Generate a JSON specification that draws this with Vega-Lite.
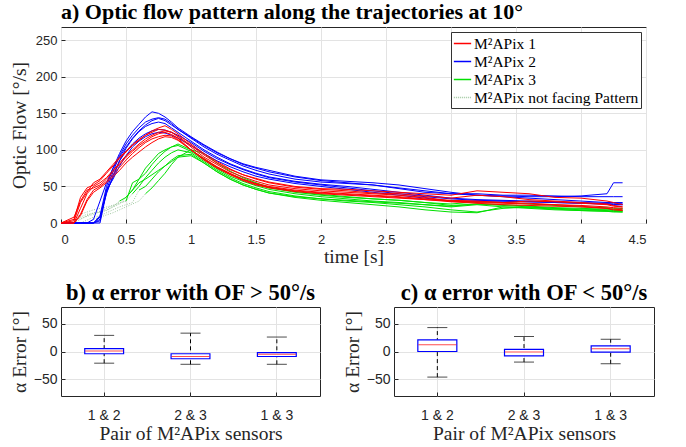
{
  "$schema": "https://vega.github.io/schema/vega-lite/v6.json",
  "padding": {"left": 8, "top": 0, "right": 5, "bottom": 2},
  "background": "white",
  "spacing": 15,
  "config": {
    "view": {"stroke": "#262626", "strokeWidth": 1},
    "axis": {
      "domain": false,
      "grid": true,
      "gridColor": "#e3e3e3",
      "gridWidth": 1,
      "tickColor": "#262626",
      "tickSize": -4,
      "labelPadding": 8,
      "labelFont": "Liberation Sans",
      "labelFontSize": 13,
      "labelColor": "#262626",
      "titleFont": "Liberation Serif",
      "titleFontSize": 19.5,
      "titleFontWeight": "normal",
      "titleColor": "#262626"
    },
    "title": {"font": "Liberation Serif", "fontSize": 22, "fontWeight": "bold", "color": "black", "offset": 3},
    "legend": {
      "labelFont": "Liberation Serif",
      "labelFontSize": 15.5,
      "labelColor": "black",
      "labelLimit": 300,
      "symbolType": "stroke",
      "symbolStrokeWidth": 1.3,
      "symbolSize": 300,
      "strokeColor": "#333333",
      "fillColor": "white",
      "padding": 2,
      "rowPadding": -3,
      "cornerRadius": 0,
      "labelOffset": 2
    }
  },
  "vconcat": [
    {
      "width": 585,
      "height": 196,
      "title": {"text": "a) Optic flow pattern along the trajectories at 10°", "anchor": "start", "frame": "group"},
      "data": {"values": [
        {"t":0,"r1":0,"r2":0,"r3":0,"r4":0,"r5":0,"r6":0,"b1":0,"b2":0,"b3":0,"b4":0,"b5":0,"b6":0},
        {"t":0.1,"r1":5,"r2":0,"r3":8,"r4":0,"r5":3,"r6":0,"b1":0,"b2":0,"b3":0,"b4":0,"b5":0,"b6":0,"d1":5,"d2":0,"d3":2,"d5":3},
        {"t":0.15,"r1":35,"r2":20,"r3":30,"r4":12,"r5":28,"r6":10,"b1":0,"b2":0,"b3":0,"b4":0,"b5":0,"b6":0,"d1":12,"d2":5,"d3":8,"d4":0,"d5":6},
        {"t":0.2,"r1":48,"r2":40,"r3":45,"r4":32,"r5":42,"r6":30,"b1":0,"b2":0,"b3":0,"b4":0,"b5":0,"b6":0,"d1":15,"d2":10,"d3":12,"d4":4,"d5":9,"d6":0},
        {"t":0.25,"r1":52,"r2":50,"r3":48,"r4":45,"r5":55,"r6":42,"b1":0,"b2":0,"b3":0,"b4":0,"b5":5,"b6":0,"d1":18,"d2":14,"d3":13,"d4":8,"d5":12,"d6":5},
        {"t":0.3,"r1":58,"r2":55,"r3":52,"r4":50,"r5":60,"r6":48,"b1":10,"b2":5,"b3":0,"b4":8,"b5":30,"b6":3,"d1":20,"d2":15,"d3":16,"d4":10,"d5":15,"d6":8},
        {"t":0.35,"r1":68,"r2":62,"r3":60,"r4":57,"r5":70,"r6":55,"b1":50,"b2":45,"b3":42,"b4":40,"b5":55,"b6":45,"d1":22,"d2":17,"d3":20,"d4":14,"d5":18,"d6":11},
        {"t":0.4,"r1":78,"r2":72,"r3":70,"r4":66,"r5":80,"r6":63,"b1":75,"b2":70,"b3":62,"b4":65,"b5":75,"b6":60,"d1":24,"d2":22,"d3":24,"d4":18,"d5":22,"d6":14},
        {"t":0.45,"r1":88,"r2":82,"r3":80,"r4":76,"r5":90,"r6":72,"b1":95,"b2":92,"b3":85,"b4":85,"b5":90,"b6":78,"g2":30,"d1":28,"d2":30,"d3":27,"d4":22,"d5":26,"d6":18},
        {"t":0.5,"r1":97,"r2":92,"r3":90,"r4":86,"r5":98,"r6":82,"b1":112,"b2":108,"b3":102,"b4":98,"b5":104,"b6":92,"g1":30,"g2":35,"g5":35,"d1":30,"d3":30,"d4":25,"d5":35,"d6":22},
        {"t":0.55,"r1":106,"r2":100,"r3":98,"r4":95,"r5":107,"r6":90,"b1":125,"b2":120,"b3":115,"b4":108,"b5":116,"b6":104,"g1":55,"g2":45,"g3":40,"g5":45,"d3":40,"d4":28,"d6":26},
        {"t":0.6,"r1":113,"r2":108,"r3":106,"r4":103,"r5":114,"r6":97,"b1":135,"b2":130,"b3":125,"b4":116,"b5":126,"b6":112,"g1":60,"g2":60,"g3":50,"g4":45,"g5":55,"d4":45,"d6":30},
        {"t":0.65,"r1":120,"r2":115,"r3":112,"r4":110,"r5":120,"r6":104,"b1":145,"b2":138,"b3":132,"b4":122,"b5":134,"b6":118,"g1":68,"g2":75,"g3":62,"g4":50,"g5":60,"g6":40,"d6":40},
        {"t":0.7,"r1":126,"r2":120,"r3":118,"r4":115,"r5":124,"r6":110,"b1":152,"b2":142,"b3":136,"b4":126,"b5":140,"b6":122,"g1":80,"g2":85,"g3":72,"g4":60,"g5":66,"g6":48},
        {"t":0.75,"r1":130,"r2":124,"r3":122,"r4":118,"r5":128,"r6":115,"b1":150,"b2":144,"b3":138,"b4":128,"b5":143,"b6":124,"g1":90,"g2":95,"g3":82,"g4":70,"g5":72,"g6":58},
        {"t":0.8,"r1":133,"r2":126,"r3":124,"r4":120,"r5":127,"r6":118,"b1":145,"b2":142,"b3":136,"b4":127,"b5":140,"b6":123,"g1":98,"g2":100,"g3":90,"g4":78,"g5":78,"g6":68},
        {"t":0.85,"r1":128,"r2":124,"r3":121,"r4":119,"r5":124,"r6":117,"b1":138,"b2":136,"b3":130,"b4":124,"b5":134,"b6":120,"g1":104,"g2":104,"g3":96,"g4":86,"g5":84,"g6":80},
        {"t":0.9,"r1":122,"r2":118,"r3":116,"r4":114,"r5":119,"r6":113,"b1":130,"b2":128,"b3":124,"b4":120,"b5":128,"b6":116,"g1":108,"g2":106,"g3":100,"g4":92,"g5":90,"g6":90},
        {"t":1.0,"r1":108,"r2":104,"r3":100,"r4":100,"r5":106,"r6":100,"b1":118,"b2":116,"b3":112,"b4":110,"b5":117,"b6":106,"g1":100,"g2":98,"g3":96,"g4":94,"g5":92,"g6":100},
        {"t":1.1,"r1":95,"r2":90,"r3":88,"r4":87,"r5":93,"r6":86,"b1":107,"b2":104,"b3":100,"b4":98,"b5":106,"b6":95,"g1":88,"g2":86,"g3":84,"g4":82,"g5":82,"g6":95},
        {"t":1.2,"r1":84,"r2":80,"r3":77,"r4":76,"r5":82,"r6":75,"b1":97,"b2":94,"b3":90,"b4":88,"b5":96,"b6":85,"g1":76,"g2":74,"g3":72,"g4":70,"g5":70,"g6":82},
        {"t":1.3,"r1":74,"r2":70,"r3":68,"r4":67,"r5":73,"r6":66,"b1":88,"b2":86,"b3":81,"b4":80,"b5":88,"b6":77,"g1":67,"g2":64,"g3":62,"g4":60,"g5":60,"g6":71},
        {"t":1.4,"r1":66,"r2":63,"r3":60,"r4":59,"r5":66,"r6":58,"b1":80,"b2":78,"b3":74,"b4":73,"b5":81,"b6":70,"g1":60,"g2":57,"g3":54,"g4":52,"g5":52,"g6":62},
        {"t":1.5,"r1":60,"r2":57,"r3":54,"r4":53,"r5":61,"r6":52,"b1":75,"b2":72,"b3":68,"b4":67,"b5":76,"b6":64,"g1":54,"g2":51,"g3":48,"g4":46,"g5":46,"g6":55},
        {"t":1.6,"r1":55,"r2":52,"r3":50,"r4":49,"r5":56,"r6":48,"b1":70,"b2":67,"b3":63,"b4":62,"b5":72,"b6":60,"g1":48,"g2":46,"g3":43,"g4":41,"g5":41,"g6":49},
        {"t":1.8,"r1":49,"r2":47,"r3":45,"r4":44,"r5":50,"r6":43,"b1":63,"b2":60,"b3":57,"b4":56,"b5":64,"b6":54,"g1":42,"g2":40,"g3":37,"g4":35,"g5":36,"g6":43},
        {"t":2.0,"r1":46,"r2":44,"r3":42,"r4":41,"r5":47,"r6":40,"b1":58,"b2":56,"b3":53,"b4":52,"b5":59,"b6":50,"g1":38,"g2":36,"g3":33,"g4":31,"g5":33,"g6":39},
        {"t":2.2,"r1":44,"r2":42,"r3":40,"r4":39,"r5":46,"r6":38,"b1":55,"b2":54,"b3":50,"b4":48,"b5":57,"b6":46,"g1":35,"g2":33,"g3":30,"g4":28,"g5":31,"g6":36},
        {"t":2.4,"r1":41,"r2":40,"r3":38,"r4":37,"r5":44,"r6":36,"b1":52,"b2":52,"b3":46,"b4":44,"b5":55,"b6":42,"g1":33,"g2":30,"g3":28,"g4":25,"g5":29,"g6":33},
        {"t":2.6,"r1":40,"r2":38,"r3":36,"r4":35,"r5":42,"r6":34,"b1":48,"b2":47,"b3":42,"b4":40,"b5":52,"b6":38,"g1":31,"g2":28,"g3":25,"g4":22,"g5":27,"g6":31},
        {"t":2.8,"r1":37,"r2":35,"r3":33,"r4":32,"r5":40,"r6":32,"b1":44,"b2":42,"b3":38,"b4":36,"b5":47,"b6":34,"g1":28,"g2":25,"g3":22,"g4":18,"g5":25,"g6":28},
        {"t":3.0,"r1":34,"r2":30,"r3":31,"r4":30,"r5":38,"r6":29,"b1":40,"b2":40,"b3":34,"b4":33,"b5":42,"b6":30,"g1":24,"g2":22,"g3":18,"g4":15,"g5":23,"g6":26},
        {"t":3.2,"r1":38,"r2":28,"r3":30,"r4":29,"r5":44,"r6":27,"b1":38,"b2":40,"b3":32,"b4":31,"b5":38,"b6":30,"g1":26,"g2":25,"g3":15,"g4":14,"g5":26,"g6":29},
        {"t":3.4,"r1":36,"r2":27,"r3":28,"r4":28,"r5":42,"r6":25,"b1":37,"b2":38,"b3":31,"b4":30,"b5":36,"b6":30,"g1":24,"g2":22,"g3":20,"g4":22,"g5":25,"g6":28},
        {"t":3.6,"r1":32,"r2":26,"r3":27,"r4":30,"r5":40,"r6":24,"b1":36,"b2":38,"b3":30,"b4":29,"b5":34,"b6":29,"g1":22,"g2":20,"g3":22,"g4":21,"g5":23,"g6":26},
        {"t":3.8,"r1":30,"r2":25,"r3":25,"r4":29,"r5":35,"r6":23,"b1":36,"b2":37,"b3":29,"b4":28,"b5":32,"b6":28,"g1":20,"g2":18,"g3":20,"g4":19,"g5":21,"g6":24},
        {"t":4.0,"r1":28,"r2":24,"r3":23,"r4":27,"r5":34,"r6":22,"b1":37,"b2":36,"b3":28,"b4":27,"b5":30,"b6":27,"g1":19,"g2":17,"g3":18,"g4":17,"g5":20,"g6":22},
        {"t":4.2,"r1":26,"r2":22,"r3":20,"r4":25,"r5":30,"r6":20,"b1":40,"b2":36,"b3":27,"b4":26,"b5":28,"b6":26,"g1":18,"g2":16,"g3":17,"g4":16,"g5":19,"g6":21},
        {"t":4.25,"r1":24,"r2":21,"r3":19,"r4":23,"r5":28,"r6":18,"b1":55,"b2":36,"b3":27,"b4":25,"b5":28,"b6":25,"g1":17,"g2":16,"g3":16,"g4":15,"g5":18,"g6":20},
        {"t":4.32,"r1":22,"r2":20,"r3":18,"r4":22,"r5":25,"r6":17,"b1":55,"b2":36,"b3":27,"b4":25,"b5":28,"b6":25,"g1":17,"g2":15,"g3":16,"g4":15,"g5":18,"g6":20}
      ]},
      "encoding": {
        "x": {"field": "t", "type": "quantitative", "scale": {"domain": [0, 4.5], "nice": false},
              "axis": {"values": [0, 0.5, 1, 1.5, 2, 2.5, 3, 3.5, 4, 4.5], "format": ".1~f", "title": "time [s]", "labelPadding": 14, "titlePadding": 1}},
        "y": {"field": "v", "type": "quantitative", "scale": {"domain": [0, 268], "nice": false},
              "axis": {"values": [0, 50, 100, 150, 200, 250], "title": "Optic Flow [°/s]", "titlePadding": 6}},
        "detail": {"field": "k"}
      },
      "layer": [
        {
          "transform": [{"fold": ["d1", "d2", "d3", "d4", "d5", "d6"], "as": ["k", "v"]}, {"filter": "isValid(datum.v)"}],
          "mark": {"type": "line", "strokeWidth": 1, "strokeDash": [1, 1.5]},
          "encoding": {
            "color": {
              "datum": "M²APix not facing Pattern",
              "type": "nominal",
              "scale": {
                "domain": ["M²APix 1", "M²APix 2", "M²APix 3", "M²APix not facing Pattern"],
                "range": ["#ff0000", "#0000ff", "#00e000", "#a0c8a0"]
              },
              "legend": {
                "orient": "none",
                "legendX": 390,
                "legendY": 5,
                "title": null,
                "encode": {"symbols": {"update": {
                  "stroke": {"signal": "datum.label === 'M²APix 1' ? '#ff0000' : datum.label === 'M²APix 2' ? '#0000ff' : datum.label === 'M²APix 3' ? '#00e000' : '#909090'"},
                  "strokeDash": {"signal": "datum.label === 'M²APix not facing Pattern' ? [1, 1] : [1, 0]"}
                }}}
              }
            }
          }
        },
        {
          "transform": [{"fold": ["g1", "g2", "g3", "g4", "g5", "g6"], "as": ["k", "v"]}, {"filter": "isValid(datum.v)"}],
          "mark": {"type": "line", "strokeWidth": 1},
          "encoding": {"color": {"datum": "M²APix 3", "type": "nominal"}}
        },
        {
          "transform": [{"fold": ["b1", "b2", "b3", "b4", "b5", "b6"], "as": ["k", "v"]}, {"filter": "isValid(datum.v)"}],
          "mark": {"type": "line", "strokeWidth": 1},
          "encoding": {"color": {"datum": "M²APix 2", "type": "nominal"}}
        },
        {
          "transform": [{"fold": ["r1", "r2", "r3", "r4", "r5", "r6"], "as": ["k", "v"]}, {"filter": "isValid(datum.v)"}],
          "mark": {"type": "line", "strokeWidth": 1},
          "encoding": {"color": {"datum": "M²APix 1", "type": "nominal"}}
        }
      ]
    },
    {
      "spacing": 20,
      "hconcat": [
        {
          "width": 259,
          "height": 89,
          "title": {"text": "b) α error with OF > 50°/s", "offset": 3, "fontSize": 22.5},
          "data": {"values": [
            {"p": "1 & 2", "lo": -21, "q1": -4, "md": 1, "q3": 5, "hi": 29},
            {"p": "2 & 3", "lo": -23, "q1": -13, "md": -9, "q3": -4, "hi": 33},
            {"p": "1 & 3", "lo": -23, "q1": -9, "md": -5, "q3": -2, "hi": 26}
          ]},
          "encoding": {
            "x": {"field": "p", "type": "nominal", "sort": null, "scale": {"paddingInner": 0, "paddingOuter": 0},
                  "axis": {"labelAngle": 0, "bandPosition": 0.5, "labelFontSize": 14, "title": "Pair of M²APix sensors", "labelPadding": 16, "titlePadding": 2}}
          },
          "layer": [
            {"mark": {"type": "rule", "color": "black", "strokeDash": [4, 3], "strokeWidth": 1},
             "encoding": {"y": {"field": "lo", "type": "quantitative", "scale": {"domain": [-80, 80], "nice": false},
                                "axis": {"values": [-50, 0, 50], "labelFontSize": 14, "title": "α Error [°]", "titlePadding": 4}},
                          "y2": {"field": "hi"}}},
            {"mark": {"type": "bar", "fill": "white", "stroke": "#0000ff", "strokeWidth": 1.2, "width": {"band": 0.45}},
             "encoding": {"y": {"field": "q1", "type": "quantitative"}, "y2": {"field": "q3"}}},
            {"mark": {"type": "tick", "color": "black", "size": 20, "thickness": 1},
             "encoding": {"y": {"field": "hi", "type": "quantitative"}}},
            {"mark": {"type": "tick", "color": "black", "size": 20, "thickness": 1},
             "encoding": {"y": {"field": "lo", "type": "quantitative"}}},
            {"mark": {"type": "tick", "color": "#ff0000", "size": 38, "thickness": 1},
             "encoding": {"y": {"field": "md", "type": "quantitative"}}}
          ]
        },
        {
          "width": 260,
          "height": 89,
          "title": {"text": "c) α error with OF < 50°/s", "offset": 3, "fontSize": 22.5},
          "data": {"values": [
            {"p": "1 & 2", "lo": -46, "q1": 0, "md": 12, "q3": 21, "hi": 43},
            {"p": "2 & 3", "lo": -19, "q1": -8, "md": -1, "q3": 4, "hi": 27},
            {"p": "1 & 3", "lo": -22, "q1": -1, "md": 5, "q3": 10, "hi": 22}
          ]},
          "encoding": {
            "x": {"field": "p", "type": "nominal", "sort": null, "scale": {"paddingInner": 0, "paddingOuter": 0},
                  "axis": {"labelAngle": 0, "bandPosition": 0.5, "labelFontSize": 14, "title": "Pair of M²APix sensors", "labelPadding": 16, "titlePadding": 2}}
          },
          "layer": [
            {"mark": {"type": "rule", "color": "black", "strokeDash": [4, 3], "strokeWidth": 1},
             "encoding": {"y": {"field": "lo", "type": "quantitative", "scale": {"domain": [-80, 80], "nice": false},
                                "axis": {"values": [-50, 0, 50], "labelFontSize": 14, "title": "α Error [°]", "titlePadding": 4}},
                          "y2": {"field": "hi"}}},
            {"mark": {"type": "bar", "fill": "white", "stroke": "#0000ff", "strokeWidth": 1.2, "width": {"band": 0.45}},
             "encoding": {"y": {"field": "q1", "type": "quantitative"}, "y2": {"field": "q3"}}},
            {"mark": {"type": "tick", "color": "black", "size": 20, "thickness": 1},
             "encoding": {"y": {"field": "hi", "type": "quantitative"}}},
            {"mark": {"type": "tick", "color": "black", "size": 20, "thickness": 1},
             "encoding": {"y": {"field": "lo", "type": "quantitative"}}},
            {"mark": {"type": "tick", "color": "#ff0000", "size": 38, "thickness": 1},
             "encoding": {"y": {"field": "md", "type": "quantitative"}}}
          ]
        }
      ]
    }
  ]
}
